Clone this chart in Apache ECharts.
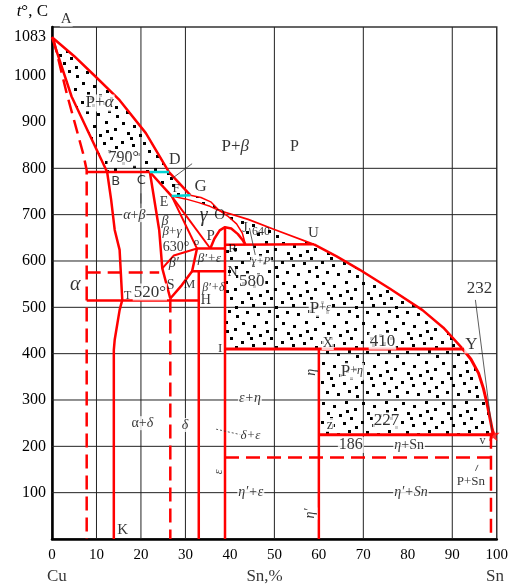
<!DOCTYPE html>
<html><head><meta charset="utf-8">
<script src="https://cdn.jsdelivr.net/npm/echarts@6/dist/echarts.min.js"></script>
<style>html,body{margin:0;padding:0;background:#fff}#c{width:511px;height:586px}</style>
</head><body><div id="c"></div>
<script>
// ---------- axes / ticks ----------
const xTicks = [0,10,20,30,40,50,60,70,80,90,100];
const yTicks = [100,200,300,400,500,600,700,800,900,1000,1083];
const yMax = 1105;
const gridX = [10,20,30,50,70,90];
const gridY = [100,200,300,400,500,600,700,800];

// ---------- phase boundaries (wt% Sn, °C) ----------
const liquidusAD = [[0,1083],[5,1042],[10,996],[15.2,947],[21.1,876],[26.3,792]];
const liquidusDG = [[26.3,792],[31.1,742]];
const liquidusGO = [[31.1,742],[33.5,737],[35.8,727],[37.6,709]];
const liquidusOU = [[37.6,709],[44.1,690],[50,668],[58.9,636]];
const liquidusUY = [[58.9,636],[64,610],[69.2,581],[76,540],[83.3,494],[88,456],[92.2,412]];
const liquidusYV = [[92.2,412],[94.2,388],[95.9,358],[97,325],[97.8,293],[98.6,255],[99.2,225]];
const solidusAB = [[0,1083],[4.4,955],[12.4,792]];
const dashedAlpha = [[0.3,1080],[3.3,962],[7,832],[7.8,796],[7.8,0]];
const line790 = [[7.8,792],[22,792]];
const cyanCD = [[22,792],[26.3,792]];
const cyanEG = [[26.9,740],[31.1,742]];
const alphaSolvus = [[12.4,792],[13.3,732],[14.1,667],[15.2,624],[15.8,516],[15.2,494],[14.1,430],[13.9,408],[13.9,0]];
const lineCS = [[22,792],[24.1,667],[24.8,584],[26.6,519]];
const lineCE = [[22,792],[26.9,740]];
const lineEbox = [[26.9,740],[32.6,627]];
const lineEP = [[26.9,740],[35.6,627]];
const lineEO = [[26.9,740],[30,734],[33,726],[35.5,718],[37.6,709]];
const lineOJ = [[37.6,709],[39.5,697],[41.5,680],[42.8,660],[43.5,635]];
const line630 = [[24.8,584],[27.4,612],[32.6,627]];
const boxTop = [[32.6,627],[38.9,627]];
const lineBoxS = [[32.6,627],[31.5,578],[29.2,548],[26.6,519]];
const line578 = [[31.5,578],[38.9,578]];
const dome = [[35.6,627],[36.5,648],[37.7,666],[38.9,673],[40.3,670],[41.8,658],[42.8,646],[43.5,635]];
const line640 = [[38.9,635],[58.9,636]];
const epsLine = [[38.9,673],[38.9,0]];
const line520 = [[7.8,515],[33,515]];
const dashed575 = [[7.8,575],[24.1,575]];
const dashedS = [[26.6,519],[26.6,0]];
const lineH = [[33,578],[33,0]];
const line410 = [[38.9,410],[92.2,410]];
const line60 = [[60,410],[60,0]];
const line227 = [[60,225],[99.2,225]];
const dashed186 = [[38.9,176],[100,176]];
const dashedSn = [[98.7,225],[98.7,0]];
const tinPoint = [[99.2,225]];

// thin black leaders
const leaders = [
  [[31.5,810],[27,778]],
  [[44.4,671],[45.7,613]],
  [[95.2,516],[99.0,231]],
  [[20,746],[20,724]],
  [[95.8,160],[95.2,147]]
];
const dottedLeaders = [ [[36.9,237],[42.5,225]] ];

// ---------- text labels: x, T, text, size, flags ----------
const labels = [
  [3.2,1122,'A',15,''],
  [10.7,941,'P+{i|α}',17,''],
  [16.1,822,'790°',16,''],
  [27.6,818,'D',16,'n'],
  [41.2,846,'P+{i|β}',17,''],
  [54.5,846,'P',16,''],
  [14.3,771,'B',13,'sn'],
  [20.1,773,'C',13,'sn'],
  [27.9,757,'F',13,'n'],
  [33.4,760,'G',17,'n'],
  [25.2,727,'E',14,'n'],
  [18.5,699,'{i|α}+{i|β}',14,''],
  [34.1,697,'{i|γ}',20,'n'],
  [37.7,700,'O',15,'n'],
  [25.4,686,'{i|β}',14,'n'],
  [27.0,663,'{i|β}+{i|γ}',13,'n'],
  [27.9,630,'630°',14,'n'],
  [32.5,641,'o',11,'n'],
  [35.7,654,'P',15,'n'],
  [43.4,670,'J',14,'n'],
  [47.0,663,'640',12,'n'],
  [58.8,660,'U',15,'n'],
  [35.4,606,'{i|β′+ε}',13,'n'],
  [40.6,626,'R',13,'n'],
  [47.0,600,'{i|γ+P}',11,''],
  [27.4,595,'{i|β′}',14,'n'],
  [40.6,576,'N',14,'n'],
  [44.9,555,'580',17,''],
  [26.7,548,'S',14,'n'],
  [30.9,550,'M',13,'n'],
  [36.3,542,'{i|β′+δ}',12,'n'],
  [5.2,548,'{i|α}',20,''],
  [17.0,524,'T',12,'n'],
  [22.0,533,'520°',17,''],
  [34.6,516,'H',14,'n'],
  [60.3,498,'{b|P}{s|+}{si|ε}',17,''],
  [37.8,412,'I',13,'n'],
  [62.0,423,'X',14,''],
  [74.3,427,'410',17,''],
  [94.3,419,'Y',17,''],
  [96.1,540,'232',17,''],
  [58.3,360,'{i|η}',14,'nr'],
  [67.4,362,'{b|P}{s|+}{si|η}',17,''],
  [44.5,304,'{i|ε+η}',14,''],
  [20.3,250,'α+{i|δ}',14,''],
  [29.9,246,'{i|δ}',14,''],
  [44.6,224,'{i|δ+ε}',13,''],
  [62.5,246,'z',14,''],
  [75.2,255,'227',17,''],
  [67.2,203,'186',16,''],
  [80.3,203,'{i|η}+Sn',14,''],
  [96.8,212,'v',12,'n'],
  [37.6,145,'{i|ε}',12,'nr'],
  [44.7,101,'{i|η′+ε}',14,''],
  [80.7,101,'{i|η′+Sn}',14,''],
  [94.2,125,'P+Sn',13,''],
  [58.1,55,'{i|η′}',14,'r'],
  [15.9,19,'K',15,'n'],
  [1.1,-82,'Cu',17,''],
  [47.8,-82,'Sn,%',17,''],
  [99.6,-82,'Sn',17,'']
];

// ---------- stipple regions (built from boundaries) ----------
const regions = [
  liquidusAD.concat([[12.4,792],[4.4,955]]),
  [[22,792],[26.3,792],[31.1,742],[26.9,740]],
  liquidusGO.concat(lineEO.slice(0,-1).reverse()),
  liquidusOU.concat(lineOJ.slice(1).reverse().slice(0,-1)),
  [[38.9,635]].concat(liquidusUY, [[92.2,410],[38.9,410]]),
  [[60,410]].concat(liquidusYV, [[60,225]])
];

const SERIF = "'Liberation Serif','Times New Roman',serif";
const SANS = "'DejaVu Sans',sans-serif";
const RED = '#ff0000';

// stipple pattern (fixed, hand-placed dots in a 40px tile)
const pc = document.createElement('canvas');
pc.width = 40; pc.height = 40;
const g = pc.getContext('2d');
g.fillStyle = '#000';
[[2,2],[13,5],[25,1],[34,8],[7,12],[19,14],[30,17],[1,21],[12,24],[23,22],[35,26],[6,31],[17,33],[28,30],[36,35],[10,17],[26,10]]
  .forEach(function(p){ g.fillRect(p[0],p[1],3,3); });
const pattern = { image: pc, repeat: 'repeat' };

function ln(pts, color, width, type, z) {
  return { type:'line', data: pts, symbol:'none', showSymbol:false, silent:true,
    animation:false, clip:false, z: z || 4,
    lineStyle:{ color: color, width: width, type: type || 'solid', cap:'butt', join:'round' } };
}
const DASH = [14,7];

const series = [];
regions.forEach(function(pts){
  series.push({ type:'custom', silent:true, animation:false, z:2, data: pts,
    renderItem: function(params, api){
      if (params.dataIndex !== 0) return null;
      return { type:'polygon', shape:{ points: pts.map(function(p){ return api.coord(p); }) },
        style:{ fill: pattern, stroke: null } };
    }});
});
gridX.forEach(function(x){ series.push(ln([[x,0],[x,yMax]], '#222', 1, 'solid', 1)); });
gridY.forEach(function(y){ series.push(ln([[0,y],[100,y]], '#222', 1, 'solid', 1)); });
[
  [liquidusAD,2.5],[liquidusDG,2.5],[liquidusGO,1.5],[liquidusOU,1.8],[liquidusUY,2.5],[liquidusYV,3],
  [solidusAB,2.5],[line790,2.5],[alphaSolvus,2.5],[lineCS,2.5],[lineCE,2.5],
  [lineEbox,2],[lineEP,2],[lineEO,1.5],[lineOJ,1.5],[line630,2],[boxTop,2.5],[lineBoxS,2.5],
  [line578,2.5],[dome,2.5],[line640,2.5],[epsLine,2.5],[line520,2.5],[lineH,2.5],
  [line410,3],[line60,2.5],[line227,3]
].forEach(function(d){ series.push(ln(d[0], RED, d[1])); });
[dashedAlpha, dashed575, dashedS, dashed186, dashedSn].forEach(function(d){ series.push(ln(d, RED, 2.5, DASH)); });
series.push(ln(cyanCD, '#00d4d4', 2.5, 'solid', 5));
series.push(ln(cyanEG, '#00d4d4', 2.5, 'solid', 5));
leaders.forEach(function(d){ series.push(ln(d, '#333', 0.8, 'solid', 6)); });
dottedLeaders.forEach(function(d){ series.push(ln(d, '#333', 0.8, [2,2], 6)); });
series.push({ type:'scatter', silent:true, animation:false, z:7, clip:false, data: tinPoint,
  symbol:'path://M0,-10L3,-3L10,-3L4.5,2L6.5,10L0,5L-6.5,10L-4.5,2L-10,-3L-3,-3Z',
  symbolSize: 13, itemStyle:{ color: RED } });
series.push({ type:'scatter', silent:true, animation:false, z:10, clip:false, symbolSize:0,
  data: labels.map(function(l){
    const s = l[3], fam = l[4].indexOf('sn')>=0 ? SANS : SERIF;
    const bg = l[4].indexOf('n') >= 0 ? 'transparent' : '#fff';
    return { value:[l[0], l[1]], name: l[2],
      label:{ show:true, position:'inside', color:'#000', fontSize:s, fontFamily:fam,
        rotate: l[4].indexOf('r')>=0 ? 90 : 0,
        backgroundColor: bg, padding:[0,1],
        rich:{
          b:{ fontSize:s, fontFamily:SERIF, color:'#000' },
          i:{ fontStyle:'italic', fontSize:s, fontFamily:SERIF, color:'#000' },
          s:{ fontSize:Math.round(s*0.72), fontFamily:SERIF, color:'#000' },
          si:{ fontStyle:'italic', fontSize:Math.round(s*0.72), fontFamily:SERIF, color:'#000' }
        } } };
  }),
  label:{ show:true, formatter: function(p){ return p.name; } }
});

const chart = echarts.init(document.getElementById('c'), null, { renderer:'canvas' });
chart.setOption({
  animation:false,
  backgroundColor:'#fff',
  grid:{ left:52, right:9, top:27, bottom:47, show:true, borderColor:'#333', borderWidth:1.5, backgroundColor:'transparent' },
  xAxis:{ type:'value', min:0, max:100, interval:10,
    axisLine:{ show:true, onZero:false, lineStyle:{ color:'#000', width:2.5 } },
    axisTick:{ show:false }, splitLine:{ show:false },
    axisLabel:{ color:'#000', fontFamily:SERIF, fontSize:15, margin:9,
      customValues: xTicks, formatter: function(v){ return String(v); } } },
  yAxis:{ type:'value', min:0, max:yMax, interval:100,
    name:'{i|t}°, C', nameLocation:'end', nameGap:7,
    nameTextStyle:{ color:'#000', fontFamily:SERIF, fontSize:17, align:'right', padding:[0,4,0,0],
      rich:{ i:{ fontStyle:'italic', fontFamily:SERIF, fontSize:17, color:'#000' } } },
    axisLine:{ show:true, onZero:false, lineStyle:{ color:'#000', width:2.5 } },
    axisTick:{ show:false }, splitLine:{ show:false },
    axisLabel:{ color:'#000', fontFamily:SERIF, fontSize:16, margin:6, customValues: yTicks,
      formatter: function(v){ return String(v); } } },
  series: series
});
</script></body></html>
